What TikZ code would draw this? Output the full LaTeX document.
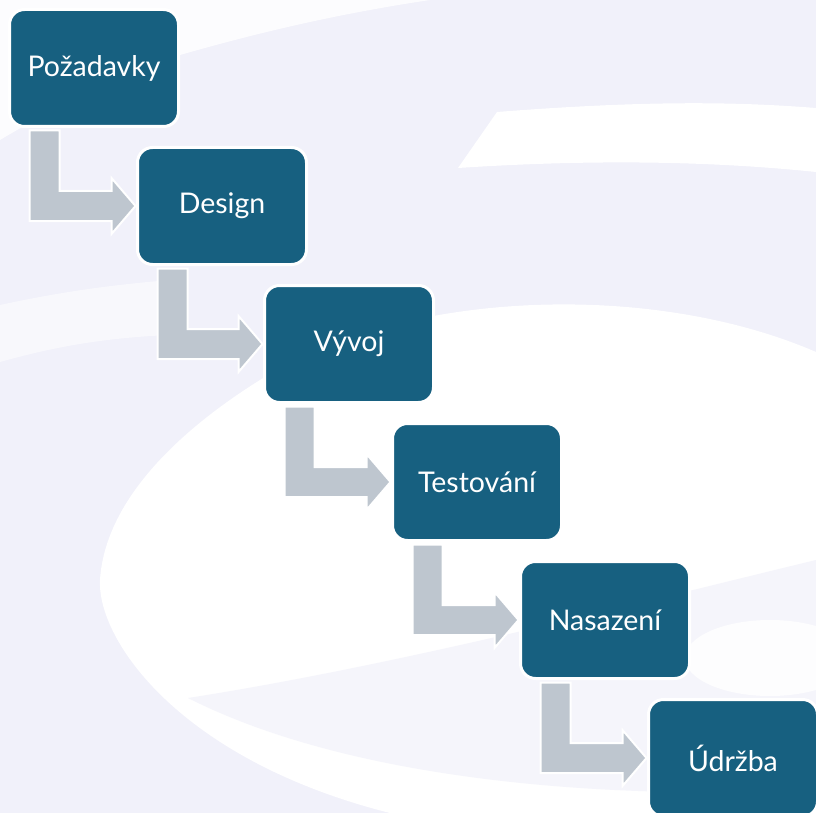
\documentclass[tikz,border=0pt]{standalone}
\usepackage{fontspec}
\setmainfont{Lato}
\usetikzlibrary{calc}
\definecolor{boxblue}{RGB}{23,96,128}
\definecolor{arrgray}{RGB}{190,198,207}
\definecolor{lav}{RGB}{241,241,250}
\pgfdeclarelayer{bg}
\pgfdeclarelayer{arrlayer}
\pgfsetlayers{bg,arrlayer,main}
\begin{document}
\begin{tikzpicture}[x=1pt,y=-1pt,
  stage/.style={rectangle, rounded corners=15pt, fill=boxblue, draw=white,
    line width=3pt, minimum width=169pt, minimum height=117pt, outer sep=0pt,
    text=white, font=\fontsize{28.5}{32}\selectfont},
  flow/.style={fill=arrgray, draw=white, line width=2pt, line join=miter}]
\useasboundingbox (0,0) rectangle (816,813);
\begin{pgfonlayer}{bg}
  \fill[lav] (0,0) rectangle (816,813);
  \begin{scope}
    \clip (0,0) rectangle (816,813);
    \fill[white,opacity=0.8] (0,0) -- (430,0) .. controls (330,15) and (250,35) .. (180,55)
      .. controls (120,75) and (50,110) .. (0,140) -- cycle;
    \fill[white] (458,168) -- (497,112) .. controls (650,100) and (740,102) .. (816,108)
      -- (816,172) .. controls (700,160) and (580,160) .. (458,168) -- cycle;
    \fill[white,opacity=0.5] (0,305) .. controls (60,292) and (110,285) .. (170,280)
      -- (170,335) .. controls (100,338) and (50,348) .. (0,362) -- cycle;
    \fill[white] (816,352) .. controls (650,280) and (400,290) .. (260,380)
      .. controls (180,430) and (105,500) .. (100,580)
      .. controls (97,640) and (180,760) .. (390,813) -- (816,813) -- cycle;
    \fill[lav,opacity=0.7] (188,698) .. controls (400,665) and (650,600) .. (816,560)
      -- (816,790) .. controls (600,800) and (350,780) .. (188,698) -- cycle;
    \fill[white,opacity=0.8] (770,658) ellipse [x radius=85, y radius=38];
  \end{scope}
\end{pgfonlayer}
\clip (0,0) rectangle (816,813);
\node[stage] (n1) at (94,68) {Požadavky};
\node[stage] (n2) at (222,206) {Design};
\node[stage] (n3) at (349,344) {Vývoj};
\node[stage] (n4) at (477,482) {Testování};
\node[stage] (n5) at (605,620) {Nasazení};
\node[stage] (n6) at (733,758) {Údržba};
\begin{pgfonlayer}{arrlayer}
  \foreach \a/\b in {n1/n2,n2/n3,n3/n4,n4/n5,n5/n6}{
    \coordinate (s) at ($(\a.south west)+(20,4)$);
    \path[flow] (s) -- ++(30,0) |- ($(\b.west)+(-26,-15)$) -- ++(0,-13)
      -- ($(\b.west)+(-2,0)$) -- ($(\b.west)+(-26,28)$) -- ++(0,-13) -| (s) -- cycle;
  }
\end{pgfonlayer}
\end{tikzpicture}
\end{document}
